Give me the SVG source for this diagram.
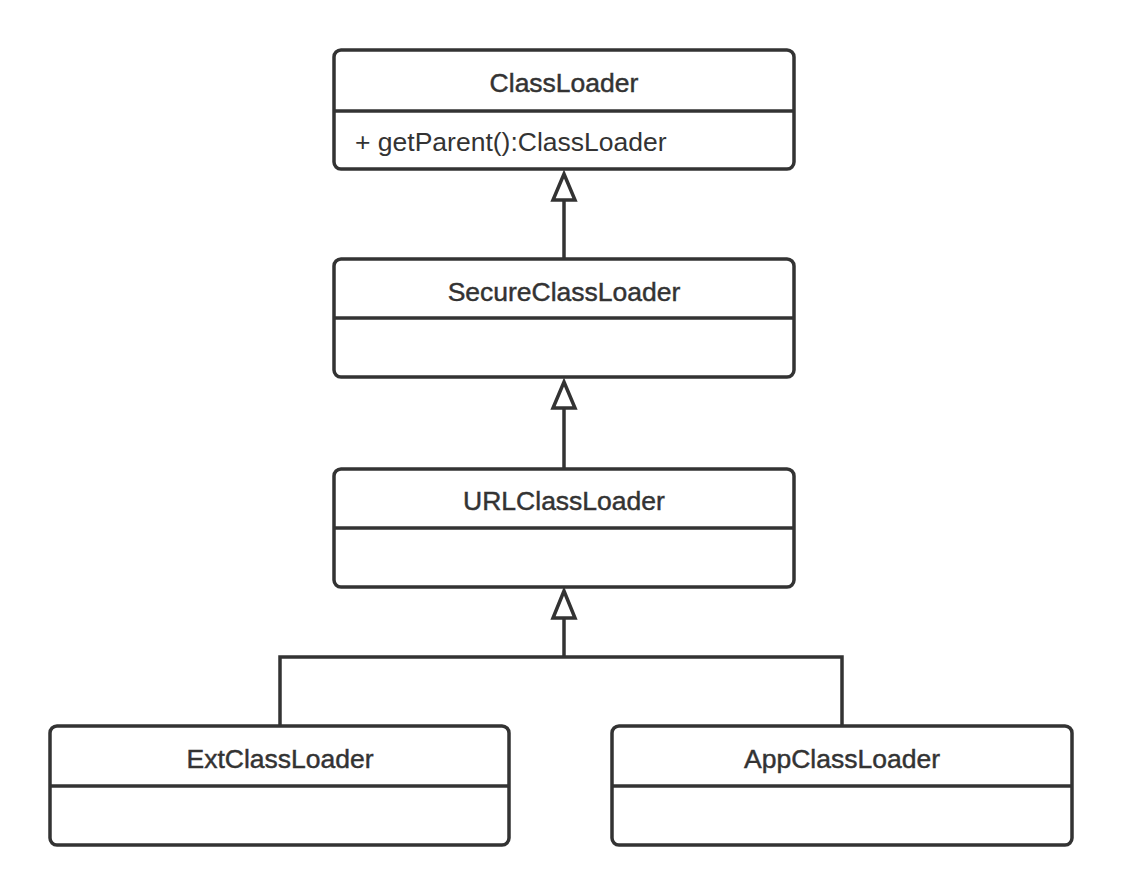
<svg xmlns="http://www.w3.org/2000/svg" width="1122" height="896" viewBox="0 0 1122 896">
<style>
.box{fill:#fff;stroke:#333;stroke-width:3.5}
.div{stroke:#333;stroke-width:3.5}
.title{font-family:"Liberation Sans",Arial,sans-serif;font-size:26.5px;fill:#333;stroke:#333;stroke-width:0.45;text-anchor:middle}
.attr{font-family:"Liberation Sans",Arial,sans-serif;font-size:26.5px;fill:#333}
.edge{fill:none;stroke:#333;stroke-width:3.5}
.head{fill:#fff;stroke:#333;stroke-width:3.5;stroke-linejoin:miter}
</style>
<rect width="1122" height="896" fill="#fff"/>
<g id="connectors">
<line class="edge" x1="564" y1="200" x2="564" y2="259"/>
<polygon class="head" points="564,174 575,200 553,200"/>
<line class="edge" x1="564" y1="408" x2="564" y2="469"/>
<polygon class="head" points="564,382 575,408 553,408"/>
<polyline class="edge" points="280,726 280,657 842,657 842,726"/>
<line class="edge" x1="564" y1="618" x2="564" y2="657"/>
<polygon class="head" points="564,591 575,618 553,618"/>
</g>
<g id="ClassLoader">
<rect class="box" x="334" y="50" width="460" height="119" rx="7"/>
<line class="div" x1="334" y1="111" x2="794" y2="111"/>
<text class="title" x="564" y="92">ClassLoader</text>
<text class="attr" x="355" y="151">+ getParent():ClassLoader</text>
</g>
<g id="SecureClassLoader">
<rect class="box" x="334" y="259" width="460" height="118" rx="7"/>
<line class="div" x1="334" y1="318" x2="794" y2="318"/>
<text class="title" x="564" y="301">SecureClassLoader</text>
</g>
<g id="URLClassLoader">
<rect class="box" x="334" y="469" width="460" height="118" rx="7"/>
<line class="div" x1="334" y1="528" x2="794" y2="528"/>
<text class="title" x="564" y="510">URLClassLoader</text>
</g>
<g id="ExtClassLoader">
<rect class="box" x="50" y="726" width="459" height="119" rx="7"/>
<line class="div" x1="50" y1="786" x2="509" y2="786"/>
<text class="title" x="280" y="768">ExtClassLoader</text>
</g>
<g id="AppClassLoader">
<rect class="box" x="612" y="726" width="460" height="119" rx="7"/>
<line class="div" x1="612" y1="786" x2="1072" y2="786"/>
<text class="title" x="842" y="768">AppClassLoader</text>
</g>
</svg>
